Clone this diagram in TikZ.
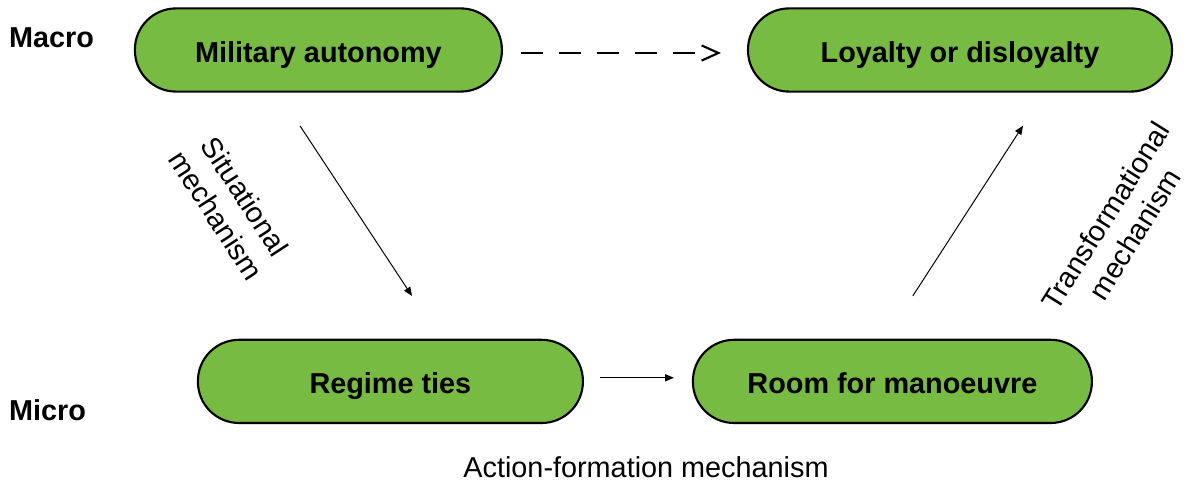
\documentclass[tikz,border=0pt]{standalone}
\usepackage{fontspec}
\setmainfont{Liberation Sans}
\usetikzlibrary{arrows.meta,positioning,calc}
\definecolor{pillgreen}{RGB}{119,187,66}
\tikzset{
  pill/.style={draw=black, line width=1.5pt, fill=pillgreen, rounded corners=1.03cm, minimum height=2.08cm,
               font=\fontsize{20.5}{24}\selectfont\bfseries, inner sep=0pt, text height=17.4pt, text depth=0pt},
  lvl/.style={font=\fontsize{20.5}{24}\selectfont\bfseries, inner sep=0pt, anchor=west},
  sig/.style={-{Triangle[length=2.2mm,width=1.8mm]}, line width=0.7pt},
  hint/.style={-{Straight Barb[length=4.2mm,width=3.8mm]}, line width=1.5pt,
               dash pattern=on 0.55cm off 0.4cm on 0.55cm off 0.4cm on 0.55cm off 0.4cm on 0.55cm off 0.4cm on 0.55cm off 3cm},
  mech/.style={font=\fontsize{20.5}{24.5}\selectfont, align=center, inner sep=0pt},
}

\begin{document}
\begin{tikzpicture}
    \useasboundingbox (0,0) rectangle (29.675,12.125);
    \node[lvl] (macro) at (0.22,11.18) {Macro};
    \node[lvl] (micro) at (0.22,1.875) {Micro};
    \node[pill, minimum width=9.175cm] (mil) at (7.96,10.875) {Military autonomy};
    \node[pill, minimum width=10.6cm] (loy) at (24.0,10.875) {Loyalty or disloyalty};
    \node[pill, minimum width=9.625cm] (reg) at (9.76,2.59) {Regime ties};
    \node[pill, minimum width=9.975cm] (room) at (22.31,2.59) {Room for manoeuvre};
    \draw[hint, shorten <=0.45cm, shorten >=0.65cm] ([yshift=-0.075cm]mil.east) -- ([yshift=-0.075cm]loy.west);
    \draw[sig] ($(mil.south)+(-0.46,-0.83)$) -- ($(reg.north)+(0.54,1.07)$);
    \draw[sig, shorten <=0.4cm, shorten >=0.45cm] ([yshift=0.09cm]reg.east) -- ([yshift=0.09cm]room.west);
    \draw[sig] ($(room.north)+(0.51,1.07)$) -- ($(loy.south)+(1.575,-0.825)$);
    \node[mech, rotate=-57] (sitlab) at (5.77,6.975) {Situational\\mechanism};
    \node[mech, rotate=58] (translab) at (28.0,6.5) {Transformational\\mechanism};
    \node[mech] (actlab) at (16.15,0.45) {Action-formation mechanism};
  \end{tikzpicture}
\end{document}
